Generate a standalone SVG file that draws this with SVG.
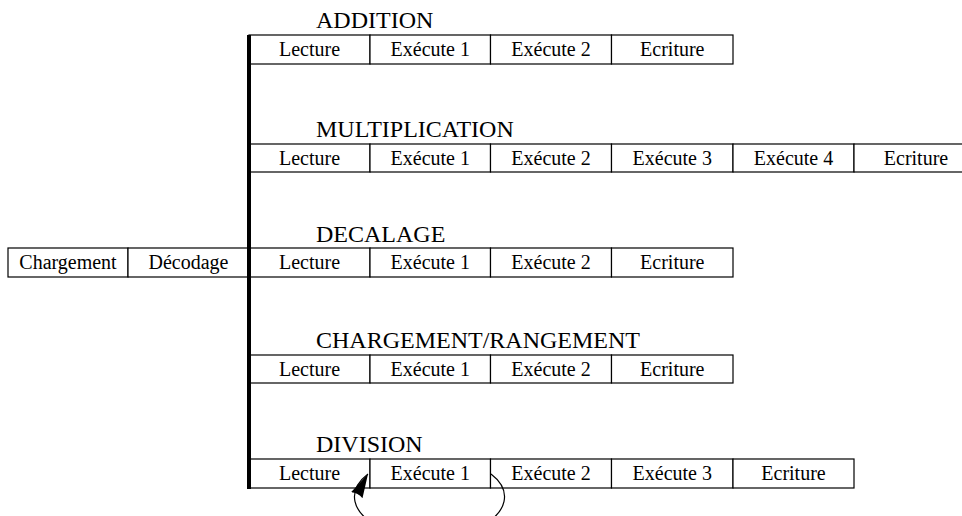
<svg xmlns="http://www.w3.org/2000/svg" width="962" height="516" viewBox="0 0 962 516">
  <style>
    .box { fill: #ffffff; stroke: #000000; stroke-width: 1.2; }
    .cell { font-family: "Liberation Serif", "Times New Roman", serif; font-size: 20px; text-anchor: middle; fill: #000000; }
    .title { font-family: "Liberation Serif", "Times New Roman", serif; font-size: 24px; fill: #000000; }
    .bus { stroke: #000000; stroke-width: 4; fill: none; }
    .loop { stroke: #000000; stroke-width: 1.2; fill: none; }
  </style>
  <defs>
    <marker id="head" markerWidth="26" markerHeight="16" refX="24" refY="8" orient="-62" markerUnits="userSpaceOnUse">
      <path d="M0,1.5 Q3,8 0,14.5 L24,8 Z" fill="#000000"/>
    </marker>
  </defs>

  <rect width="962" height="516" fill="#ffffff"/>

  <!-- common front stages -->
  <g id="front">
    <g id="chargement">
      <rect class="box" x="8" y="248" width="120" height="29"/>
      <text class="cell" x="68" y="269">Chargement</text>
    </g>
    <g id="decodage">
      <rect class="box" x="128" y="248" width="121" height="29"/>
      <text class="cell" x="188.5" y="269">Décodage</text>
    </g>
  </g>

  <!-- ADDITION -->
  <g id="addition">
    <text class="title" x="316" y="28">ADDITION</text>
    <rect class="box" x="249" y="35" width="121" height="29"/>
    <text class="cell" x="309.5" y="56">Lecture</text>
    <rect class="box" x="370" y="35" width="120.5" height="29"/>
    <text class="cell" x="430.3" y="56">Exécute 1</text>
    <rect class="box" x="490.5" y="35" width="121" height="29"/>
    <text class="cell" x="551" y="56">Exécute 2</text>
    <rect class="box" x="611.5" y="35" width="121.5" height="29"/>
    <text class="cell" x="672.3" y="56">Ecriture</text>
  </g>

  <!-- MULTIPLICATION -->
  <g id="multiplication">
    <text class="title" x="316" y="137">MULTIPLICATION</text>
    <rect class="box" x="249" y="144" width="121" height="28"/>
    <text class="cell" x="309.5" y="165">Lecture</text>
    <rect class="box" x="370" y="144" width="120.5" height="28"/>
    <text class="cell" x="430.3" y="165">Exécute 1</text>
    <rect class="box" x="490.5" y="144" width="121" height="28"/>
    <text class="cell" x="551" y="165">Exécute 2</text>
    <rect class="box" x="611.5" y="144" width="121.5" height="28"/>
    <text class="cell" x="672.3" y="165">Exécute 3</text>
    <rect class="box" x="733" y="144" width="121" height="28"/>
    <text class="cell" x="793.5" y="165">Exécute 4</text>
    <rect class="box" x="854" y="144" width="125" height="28"/>
    <text class="cell" x="916" y="165">Ecriture</text>
  </g>

  <!-- DECALAGE -->
  <g id="decalage">
    <text class="title" x="316" y="242">DECALAGE</text>
    <rect class="box" x="249" y="248" width="121" height="29"/>
    <text class="cell" x="309.5" y="269">Lecture</text>
    <rect class="box" x="370" y="248" width="120.5" height="29"/>
    <text class="cell" x="430.3" y="269">Exécute 1</text>
    <rect class="box" x="490.5" y="248" width="121" height="29"/>
    <text class="cell" x="551" y="269">Exécute 2</text>
    <rect class="box" x="611.5" y="248" width="121.5" height="29"/>
    <text class="cell" x="672.3" y="269">Ecriture</text>
  </g>

  <!-- CHARGEMENT/RANGEMENT -->
  <g id="chargement-rangement">
    <text class="title" x="316" y="348">CHARGEMENT/RANGEMENT</text>
    <rect class="box" x="249" y="355" width="121" height="28"/>
    <text class="cell" x="309.5" y="376">Lecture</text>
    <rect class="box" x="370" y="355" width="120.5" height="28"/>
    <text class="cell" x="430.3" y="376">Exécute 1</text>
    <rect class="box" x="490.5" y="355" width="121" height="28"/>
    <text class="cell" x="551" y="376">Exécute 2</text>
    <rect class="box" x="611.5" y="355" width="121.5" height="28"/>
    <text class="cell" x="672.3" y="376">Ecriture</text>
  </g>

  <!-- DIVISION -->
  <g id="division">
    <text class="title" x="316" y="452">DIVISION</text>
    <rect class="box" x="249" y="459" width="121" height="29"/>
    <text class="cell" x="309.5" y="480">Lecture</text>
    <rect class="box" x="370" y="459" width="120.5" height="29"/>
    <text class="cell" x="430.3" y="480">Exécute 1</text>
    <rect class="box" x="490.5" y="459" width="121" height="29"/>
    <text class="cell" x="551" y="480">Exécute 2</text>
    <rect class="box" x="611.5" y="459" width="121.5" height="29"/>
    <text class="cell" x="672.3" y="480">Exécute 3</text>
    <rect class="box" x="733" y="459" width="121" height="29"/>
    <text class="cell" x="793.5" y="480">Ecriture</text>
  </g>

  <!-- connectors: dispatch bar and the division loop -->
  <g id="connectors">
    <line class="bus" x1="249" y1="35" x2="249" y2="489"/>
    <path class="loop" d="M491,474 A75,40 0 1 1 368,474" marker-end="url(#head)"/>
  </g>
</svg>
